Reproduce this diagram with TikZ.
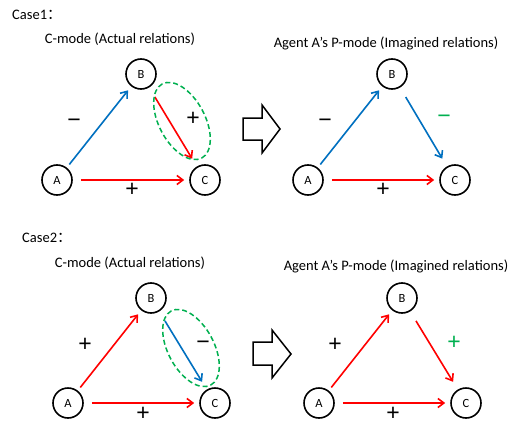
\documentclass[tikz,border=0pt]{standalone}
\usepackage{fontspec}
\setmainfont{Carlito}
\newfontfamily\cjk{Noto Sans CJK SC}
\newfontfamily\signfont{Liberation Sans}
\usetikzlibrary{arrows.meta}
\definecolor{myred}{RGB}{255,0,0}
\definecolor{myblue}{RGB}{0,112,192}
\definecolor{mygreen}{RGB}{0,176,80}
\begin{document}
\begin{tikzpicture}[x=1pt,y=1pt,
 vert/.style={circle,draw,line width=1.6pt,minimum size=30pt,inner sep=0pt,font=\fontsize{12.5}{14}\selectfont},
 rel/.style={line width=1.6pt,-{Straight Barb[length=6pt,width=9pt]}},
 posrel/.style={rel,myred}, negrel/.style={rel,myblue},
 sign/.style={font=\signfont\fontsize{23}{26}\selectfont,inner sep=0pt,text height=0.7em,text depth=0pt},
 ttl/.style={font=\fontsize{14.5}{17}\selectfont,inner sep=0pt},
 grp/.style={draw=mygreen,line width=1.5pt,dash pattern=on 5pt off 3pt},
 fat/.style={draw,line width=1.5pt,line join=miter}]
\useasboundingbox (0,0) rectangle (516,-425);
\fill[white] (0,0) rectangle (516,-425);

% ---------- Case 1 ----------
\node[ttl,anchor=west] (case1) at (12,-15) {Case1{\cjk ：}};
\node[ttl] (t1l) at (120,-39) {C-mode (Actual relations)};
\node[ttl] (t1r) at (386,-43) {Agent A’s P-mode (Imagined relations)};

\node[vert] (A1) at (57,-180) {A};
\node[vert] (B1) at (141,-74) {B};
\node[vert] (C1) at (205,-180) {C};
\draw[negrel,shorten <=4pt,shorten >=5pt] (A1) -- (B1);
\draw[posrel,shorten <=11pt,shorten >=9pt] (B1) -- (C1);
\draw[posrel,shorten <=8pt,shorten >=5pt] (A1) -- (C1);
\node[sign] (s1a) at (74,-124) {−};
\node[sign] (s1b) at (193,-122) {+};
\node[sign] (s1c) at (132,-193) {+};
\draw[grp,rotate around={-62:(182,-121)}] (182,-121) ellipse [x radius=42, y radius=23];

\draw[fat] (243,-118) -- (262,-118) -- (262,-105) -- (280,-129) -- (262,-153) -- (262,-140) -- (243,-140) -- cycle;

\node[vert] (A2) at (308,-180) {A};
\node[vert] (B2) at (392,-74) {B};
\node[vert] (C2) at (455,-180) {C};
\draw[negrel,shorten <=4pt,shorten >=5pt] (A2) -- (B2);
\draw[negrel,shorten <=11pt,shorten >=9pt] (B2) -- (C2);
\draw[posrel,shorten <=8pt,shorten >=5pt] (A2) -- (C2);
\node[sign] (s2a) at (325,-124) {−};
\node[sign,text=mygreen] (s2b) at (444,-120) {−};
\node[sign] (s2c) at (383,-193) {+};

% ---------- Case 2 ----------
\node[ttl,anchor=west] (case2) at (22,-238) {Case2{\cjk ：}};
\node[ttl] (t2l) at (130,-263) {C-mode (Actual relations)};
\node[ttl] (t2r) at (396,-266) {Agent A’s P-mode (Imagined relations)};

\node[vert] (A3) at (68,-403) {A};
\node[vert] (B3) at (151,-298) {B};
\node[vert] (C3) at (215,-403) {C};
\draw[posrel,shorten <=4pt,shorten >=5pt] (A3) -- (B3);
\draw[negrel,shorten <=11pt,shorten >=9pt] (B3) -- (C3);
\draw[posrel,shorten <=8pt,shorten >=5pt] (A3) -- (C3);
\node[sign] (s3a) at (85,-348) {+};
\node[sign] (s3b) at (203,-346) {−};
\node[sign] (s3c) at (143,-417) {+};
\draw[grp,rotate around={-62:(191,-348)}] (191,-348) ellipse [x radius=42, y radius=23];

\draw[fat] (253,-342) -- (272,-342) -- (272,-330) -- (291,-354) -- (272,-378) -- (272,-365) -- (253,-365) -- cycle;

\node[vert] (A4) at (319,-403) {A};
\node[vert] (B4) at (402,-298) {B};
\node[vert] (C4) at (466,-403) {C};
\draw[posrel,shorten <=4pt,shorten >=5pt] (A4) -- (B4);
\draw[posrel,shorten <=11pt,shorten >=9pt] (B4) -- (C4);
\draw[posrel,shorten <=8pt,shorten >=5pt] (A4) -- (C4);
\node[sign] (s4a) at (335,-348) {+};
\node[sign,text=mygreen] (s4b) at (454,-346) {+};
\node[sign] (s4c) at (393,-417) {+};
\end{tikzpicture}
\end{document}
